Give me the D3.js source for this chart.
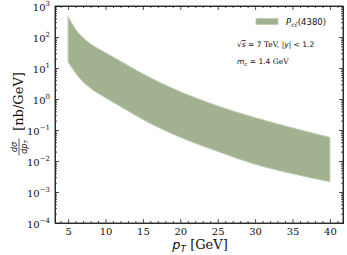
<!DOCTYPE html>
<html>
<head>
<meta charset="utf-8">
<script src="https://cdn.jsdelivr.net/npm/d3@7"></script>
<style>
  body { margin: 0; background: #fff; }
  svg text { fill: #111; }
  .tick line { stroke: #222; stroke-width: 0.8; }
  .domain { stroke: #222; stroke-width: 0.9; }
</style>
</head>
<body>
<div id="chart"></div>
<script>
// Data: band of the P_cc(4380) cross section (upper / lower edge), nb/GeV
const ptValues = [5, 6, 7, 8, 10, 12, 15, 20, 25, 30, 35, 40]
const upperValues = [457, 178, 95, 60, 31, 16.6, 6.46, 1.72, 0.60, 0.25, 0.117, 0.0575]
const lowerValues = [15.8, 6.9, 3.6, 2.24, 1.1, 0.575, 0.219, 0.0582, 0.0204, 0.0079, 0.0039, 0.00214]
const xTicks = [5, 10, 15, 20, 25, 30, 35, 40]
const yTickExps = [-4, -3, -2, -1, 0, 1, 2, 3]

// Dimensions
const width = 347
const height = 255
const margin = {left: 55, right: 4, top: 6, bottom: 32}
const plotW = width - margin.left - margin.right
const plotH = height - margin.top - margin.bottom
const bandColor = "#a2b190"
const bandEdge = "#bccab0"

const svg = d3.select("#chart")
  .append("svg")
    .attr("width", width)
    .attr("height", height)

const g = svg.append("g")
  .attr("transform", "translate(" + margin.left + "," + margin.top + ")")

const x = d3.scaleLinear().domain([3.25, 41.75]).range([0, plotW])
const y = d3.scaleLog().domain([1e-4, 1e3]).range([plotH, 0])

const bandData = ptValues.map(function(p, i) {
  return {pt: p, lo: lowerValues[i], hi: upperValues[i]}
})

const area = d3.area()
  .x(function(d) { return x(d.pt) })
  .y0(function(d) { return y(d.lo) })
  .y1(function(d) { return y(d.hi) })
  .curve(d3.curveMonotoneX)

g.append("path")
  .datum(bandData)
  .attr("d", area)
  .attr("fill", bandColor)
  .attr("stroke", bandEdge)
  .attr("stroke-width", 1)

// minor ticks
const xMinor = d3.range(4, 42).filter(function(v) { return v % 5 !== 0 })
const yMinor = []
for (let e = -4; e < 3; e++) {
  for (let k = 2; k < 10; k++) yMinor.push(k * Math.pow(10, e))
}

function addAxis(axisFn, scale, transform, major, minor, labels) {
  const ax = g.append("g").attr("transform", transform)
  ax.call(axisFn(scale).tickValues(minor).tickSize(-2).tickFormat(""))
  ax.select(".domain").remove()
  const axM = g.append("g").attr("transform", transform)
  axM.call(axisFn(scale).tickValues(major).tickSize(-4).tickPadding(5)
    .tickFormat(labels ? null : ""))
  return axM
}

const xAx = addAxis(d3.axisBottom, x, "translate(0," + plotH + ")", xTicks, xMinor, true)
xAx.selectAll("text")
  .attr("font-family", "DejaVu Serif")
  .attr("font-size", 10)
  .attr("dy", "0.71em")
  .text(function(d) { return d })
addAxis(d3.axisTop, x, "translate(0,0)", xTicks, xMinor, false)

const yMajor = yTickExps.map(function(e) { return Math.pow(10, e) })
const yAx = addAxis(d3.axisLeft, y, "translate(0,0)", yMajor, yMinor, true)
yAx.selectAll("text")
  .attr("font-family", "DejaVu Serif")
  .attr("font-size", 10)
  .attr("dy", "0.45em")
  .each(function(d) {
    const t = d3.select(this)
    t.text("")
    t.append("tspan").text("10")
    t.append("tspan").attr("font-size", 7).attr("dy", "-0.7em")
      .text(Math.round(Math.log10(d)).toString().replace("-", "\u2212"))
  })
addAxis(d3.axisRight, y, "translate(" + plotW + ",0)", yMajor, yMinor, false)

// frame
g.append("rect")
  .attr("width", plotW)
  .attr("height", plotH)
  .attr("fill", "none")
  .attr("stroke", "#222")
  .attr("stroke-width", 0.9)

// legend
g.append("rect")
  .attr("x", 201).attr("y", 12.5)
  .attr("width", 22).attr("height", 6)
  .attr("fill", bandColor)
  .attr("stroke", bandEdge)
  .attr("stroke-width", 0.8)

const leg = g.append("text")
  .attr("x", 231).attr("y", 18.5)
  .attr("font-family", "DejaVu Sans")
  .attr("font-size", 8.5)
leg.append("tspan").attr("font-style", "italic").text("P")
leg.append("tspan").attr("font-size", 6).attr("font-style", "italic").attr("dy", 2).text("c\u0063\u0304")
leg.append("tspan").attr("dy", -2).text("(4380)")

const t1 = g.append("text")
  .attr("x", 182).attr("y", 41)
  .attr("font-family", "DejaVu Sans")
  .attr("font-size", 7.5)
t1.append("tspan").text("\u221A")
t1.append("tspan").attr("font-style", "italic").attr("text-decoration", "overline").text("s")
t1.append("tspan").text(" = 7 ")
t1.append("tspan").attr("font-family", "DejaVu Serif").text("TeV, ")
t1.append("tspan").text("|")
t1.append("tspan").attr("font-style", "italic").text("y")
t1.append("tspan").text("| < 1.2")

const t2 = g.append("text")
  .attr("x", 182).attr("y", 58)
  .attr("font-family", "DejaVu Sans")
  .attr("font-size", 7.5)
t2.append("tspan").attr("font-style", "italic").text("m")
t2.append("tspan").attr("font-style", "italic").attr("font-size", 5.5).attr("dy", 1.5).text("c")
t2.append("tspan").attr("dy", -1.5).text(" = 1.4 ")
t2.append("tspan").attr("font-family", "DejaVu Serif").text("GeV")

// x label
const xl = svg.append("text")
  .attr("x", margin.left + plotW / 2 + 1)
  .attr("y", 249)
  .attr("text-anchor", "middle")
  .attr("font-size", 13)
xl.append("tspan").attr("font-family", "DejaVu Sans").attr("font-style", "italic").text("p")
xl.append("tspan").attr("font-family", "DejaVu Sans").attr("font-style", "italic")
  .attr("font-size", 9).attr("dy", 3).text("T")
xl.append("tspan").attr("font-family", "DejaVu Serif").attr("dy", -3).text(" [GeV]")

// y label
const yl = svg.append("g")
  .attr("transform", "translate(19," + (margin.top + plotH / 2) + ") rotate(-90)")
yl.append("text")
  .attr("x", 13).attr("y", 4)
  .attr("font-family", "DejaVu Serif")
  .attr("font-size", 13)
  .attr("text-anchor", "middle")
  .text("[nb/GeV]")
yl.append("line")
  .attr("x1", -41).attr("x2", -24)
  .attr("y1", 0).attr("y2", 0)
  .attr("stroke", "#111").attr("stroke-width", 0.7)
yl.append("text")
  .attr("x", -32.5).attr("y", -2.5)
  .attr("text-anchor", "middle")
  .attr("font-family", "DejaVu Sans")
  .attr("font-style", "italic")
  .attr("font-size", 8)
  .text("d\u03C3")
const den = yl.append("text")
  .attr("x", -32.5).attr("y", 7.5)
  .attr("text-anchor", "middle")
  .attr("font-family", "DejaVu Sans")
  .attr("font-style", "italic")
  .attr("font-size", 8)
den.append("tspan").text("dp")
den.append("tspan").attr("font-size", 5.5).attr("dy", 1.5).text("T")
</script>
</body>
</html>
